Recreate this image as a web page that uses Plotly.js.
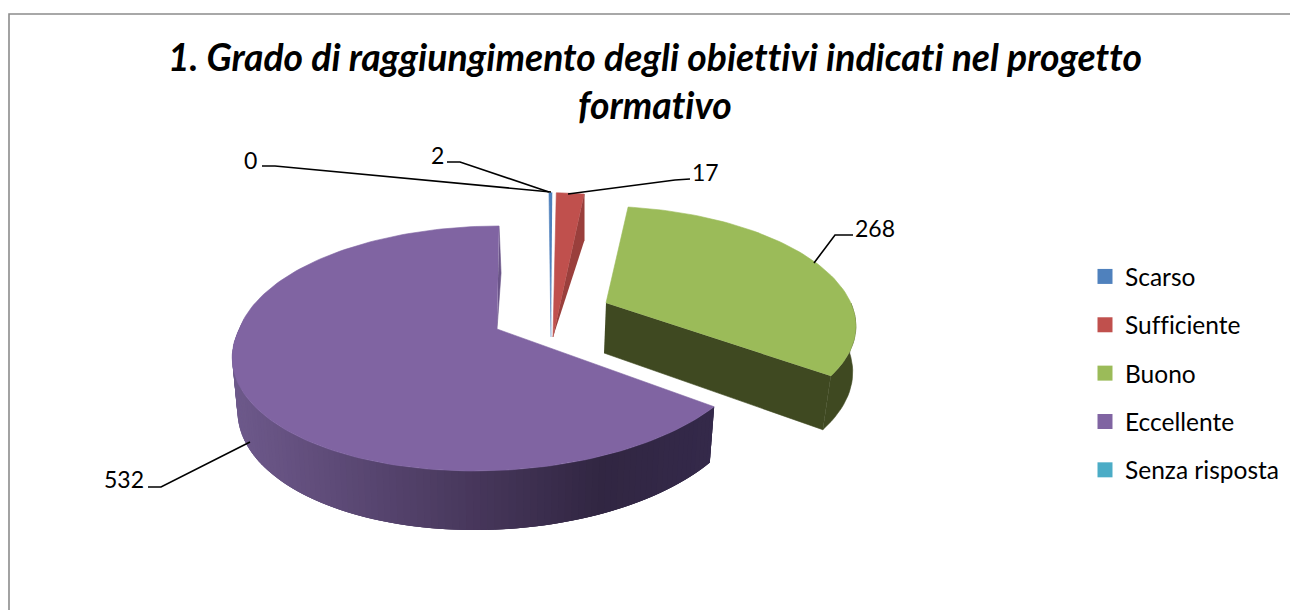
<!DOCTYPE html>
<html><head><meta charset="utf-8">
<script src="https://cdn.plot.ly/plotly-3.0.1.min.js"></script>
<style>html,body{margin:0;padding:0;background:#fff}#c{width:1290px;height:610px}
svg text{font-variant-ligatures:none;font-feature-settings:"liga" 0}</style>
</head><body><div id="c"></div>
<script>
// --- data ---
const categorie = ["Scarso","Sufficiente","Buono","Eccellente","Senza risposta"];
const valori = [2,17,268,532,0];
const colori = ["#4f81bd","#c0504d","#9bbb59","#8064a2","#4bacc6"];
const titolo = "1. Grado di raggiungimento degli obiettivi indicati nel progetto<br>formativo";

// --- 3D pie projection parameters (style, not data) ---
const A = 261.6, B = 119.4, P = 0.159;
const geom = [
  {ax:551,ay:337,sx:.95,sy:1.40,shB:.014,shF:0,D:0,sx2:1,ky:1,lowSh:0,wall:null},
  {ax:553,ay:337,sx:.95,sy:1.40,shB:0,shF:0,D:47,sx2:1,ky:1,lowSh:0,wall:"#9a3f3c",tipWall:true},
  {ax:606,ay:303,sx:.936,sy:.94,shB:.09,shF:.09,D:50,sx2:.995,ky:1.05,lowSh:-.093,wall:"#3f4921",apexDx:-2},
  {ax:497,ay:329,sx:.985,sy:1,shB:-.02,shF:-.16,D:52,sx2:.98,ky:1.05,lowSh:0,wall:null,grad:true},
  null
];
const gradStops = [[232,[110,90,140]],[300,[100,80,127]],[480,[70,54,90]],[600,[49,38,66]],[712,[52,41,74]]];

const leaders = [
  {tx:250, ty:160, px:[262,275,551], py:[166,166,192]},
  {tx:437, ty:155, px:[447,460,549], py:[162,162,192]},
  {tx:705, ty:172, px:[690,675,568], py:[179,180,194]},
  {tx:875, ty:228, px:[853,835,814], py:[235,235,263]},
  {tx:124, ty:479, px:[148,161,250], py:[487,487,442]}
];

const total = valori.reduce((a,b)=>a+b,0);
function proj(g,deg){
  const t = deg*Math.PI/180, w = 1+P*Math.cos(t);
  const dy = -B*Math.cos(t)/w*g.sy;
  const dx = A*Math.sin(t)/w*g.sx + dy*(dy<0?g.shB:g.shF);
  return {dx,dy};
}
const top_ = (g,d)=>{const p=proj(g,d);return [g.ax+p.dx,g.ay+p.dy];};
const low = (g,d)=>{const p=proj(g,d);return [g.ax+p.dx*g.sx2+p.dy*g.lowSh,g.ay+p.dy*g.ky+g.D];};
function gradColor(x){
  let i=0; while(i<gradStops.length-2 && x>gradStops[i+1][0]) i++;
  const [x0,c0]=gradStops[i],[x1,c1]=gradStops[i+1];
  const f=Math.min(1,Math.max(0,(x-x0)/(x1-x0)));
  return "rgb("+c0.map((v,k)=>Math.round(v+(c1[k]-v)*f)).join(",")+")";
}
const poly=(pts,color,lw)=>({type:"scatter",mode:"lines",x:pts.map(p=>p[0]),y:pts.map(p=>p[1]),fill:"toself",
  fillcolor:color,line:{color:color,width:lw===undefined?0.6:lw},hoverinfo:"skip",showlegend:false});

const walls=[], faces=[];
let acc=0;
valori.forEach((v,i)=>{
  const a0=acc/total*360, a1=(acc+v)/total*360; acc+=v;
  const g=geom[i]; if(!g||v===0) return;
  if(g.grad){
    // front wall runs from the slice's first edge round to its left extreme
    const end=275, n=110, span=(end-a0);
    for(let k=n-1;k>=0;k--){
      // painted left to right; each band overlaps the next one so no seams show
      const t0=a0+span*Math.max(0,k-2)/n, t1=a0+span*(k+1)/n, tc=a0+span*(k+.5)/n;
      const p=[top_(g,t0),top_(g,(t0+t1)/2),top_(g,t1),low(g,t1),low(g,(t0+t1)/2),low(g,t0)];
      walls.push(poly(p,gradColor(low(g,tc)[0]),0));
    }
    // thin rear cut face
    const e=top_(g,a1);
    faces.unshift(poly([e,[e[0]+2,e[1]+47],[g.ax,g.ay]],"#6a5488"));
  } else if(g.wall && g.tipWall){
    const e=top_(g,a1);
    walls.push(poly([[g.ax,g.ay],e,[e[0],e[1]+g.D]],g.wall));
  } else if(g.wall){
    const e=top_(g,a1), el=low(g,a1);
    walls.push(poly([[g.ax,g.ay],e,el,[g.ax+(g.apexDx||0),g.ay+g.D]],g.wall));
    const pts=[],lows=[];
    for(let d=a1;d>=90;d-=2){pts.push(top_(g,d));lows.push(low(g,d));}
    walls.push(poly(pts.concat(lows.reverse()),g.wall));
  }
  const pts=[[g.ax,g.ay]];
  const n=Math.max(4,Math.round((a1-a0)/1.5));
  for(let k=0;k<=n;k++) pts.push(top_(g,a0+(a1-a0)*k/n));
  faces.push(poly(pts,colori[i]));
});

const leaderTraces=leaders.map(l=>({type:"scatter",mode:"lines",x:l.px,y:l.py,line:{color:"#000",width:1.6},hoverinfo:"skip",showlegend:false}));
const labelValues=[valori[4],valori[0],valori[1],valori[2],valori[3]];
const annotations=leaders.map((l,i)=>({x:l.tx,y:l.ty,xref:"x",yref:"y",text:String(labelValues[i]),showarrow:false,
  xanchor:"center",yanchor:"middle",font:{family:"Lato, sans-serif",size:23,color:"#000"}}));

const legendTraces=categorie.map((c,i)=>({type:"scatter",mode:"markers",x:[null],y:[null],name:c,legendgroup:c,
  marker:{symbol:"square",size:15,color:colori[i]},showlegend:true,hoverinfo:"skip"}));

const layout={
  width:1290,height:610,margin:{l:0,r:0,t:0,b:0},paper_bgcolor:"#fff",plot_bgcolor:"#fff",
  xaxis:{range:[0,1290],visible:false,fixedrange:true},
  yaxis:{range:[610,0],visible:false,fixedrange:true},
  title:{text:titolo,x:655/1290,xanchor:"center",y:1-71/610,yanchor:"top",yref:"paper",
    font:{family:"Lato, sans-serif",size:37.3,color:"#000",weight:"bold",style:"italic"},automargin:false},
  legend:{x:1085/1290,xanchor:"left",y:1-254/610,yanchor:"top",tracegroupgap:13.5,bgcolor:"rgba(0,0,0,0)",
    font:{family:"Lato, sans-serif",size:24.5,color:"#000"},itemclick:false,itemdoubleclick:false,itemwidth:30},
  shapes:[{type:"path",xref:"x",yref:"y",path:"M 9 610 L 9 14 L 1290 14",line:{color:"#8c8c8c",width:1.6}}],
  annotations,
  showlegend:true
};
Plotly.newPlot("c",[...walls,...faces,...leaderTraces,...legendTraces],layout,{displayModeBar:false});
</script></body></html>
